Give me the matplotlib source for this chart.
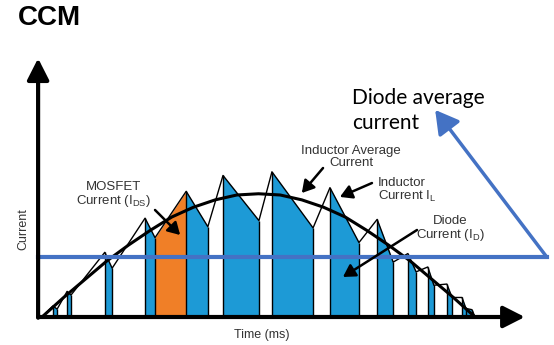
import matplotlib.pyplot as plt
from matplotlib.patches import FancyArrowPatch

plt.rcParams['mathtext.fontset'] = 'custom'
plt.rcParams['mathtext.rm'] = 'Liberation Sans'
plt.rcParams['mathtext.it'] = 'Liberation Sans:italic'

# inductor current, alternating valley / peak vertices (time in % of the half cycle)
t_il = [0, 2.5, 3.5, 5.8, 6.7, 14.5, 16.2, 23.8, 26.1, 33.3, 38.3, 41.8, 50.1,
        53.1, 62.6, 66.5, 73.2, 77.4, 81.1, 84.5, 86.4, 89.1, 90.5, 93.5,
        94.7, 97.0, 97.9, 99.3, 100]
i_il = [0, 9, 6.5, 21, 18, 53, 40, 81, 65, 103, 74, 116, 79,
        119, 73, 106, 61, 80, 45, 52, 37, 41, 26, 27,
        16, 16, 7, 6, 0]

# inductor average current (half sine), read every 5 %
t_avg = [0, 5, 10, 15, 20, 25, 30, 35, 40, 45, 50, 55, 60, 65, 70, 75, 80, 85, 90, 95, 100]
i_avg = [0, 16, 31, 46, 59, 71, 82, 90, 96, 100, 101, 100, 96, 90, 82, 71, 59, 46, 31, 16, 0]

diode_avg = 49
mosfet_seg = 8  # rising edge drawn as the MOSFET current

blue = '#1d9ad6'
orange = '#f07f27'
avg_blue = '#4472c4'
txt = '#333333'

fig = plt.figure(figsize=(5.54, 3.45), dpi=100)
ax = fig.add_axes([0, 0, 1, 1])
ax.set_xlim(-9.70, 118.24)
ax.set_ylim(-22.95, 259.8)
ax.axis('off')

# diode (falling) and MOSFET (rising) pieces
for k in range(len(t_il) - 1):
    seg_t = [t_il[k], t_il[k + 1]]
    seg_i = [i_il[k], i_il[k + 1]]
    if i_il[k + 1] < i_il[k]:
        ax.fill_between(seg_t, [0, 0], seg_i, color=blue, lw=0, zorder=1)
    elif k == mosfet_seg:
        ax.fill_between(seg_t, [0, 0], seg_i, color=orange, lw=0, zorder=1)

ax.vlines(t_il, 0, i_il, color='black', lw=1.0, zorder=2)
ax.plot(t_il, i_il, color='black', lw=1.0, zorder=3)
ax.plot(t_avg, i_avg, color='black', lw=2.2, zorder=4, solid_capstyle='round')

# axes with arrow heads
def arrow(p0, p1, color='black', lw=1.5, hl=0.5, hw=0.25, ms=20, z=6):
    a = FancyArrowPatch(p0, p1, arrowstyle=f'-|>,head_length={hl},head_width={hw}',
                        mutation_scale=ms, color=color, lw=lw, zorder=z,
                        shrinkA=0, shrinkB=0)
    ax.add_patch(a)

arrow((-0.9, -0.6), (-0.9, 212), lw=3, hl=0.65, hw=0.33)
arrow((-0.9, 0), (111.5, 0), lw=3, hl=0.65, hw=0.33)

# diode average current line and its pointer
ax.plot([-0.9, 116.6], [diode_avg, diode_avg], color=avg_blue, lw=3, zorder=5)
arrow((116.6, diode_avg), (90.8, 169.7), color=avg_blue, lw=2.5, hl=0.7, hw=0.4, z=5)

ax.text(-5.54, 239.3, 'CCM', fontsize=20, fontweight='bold',
        family='Liberation Sans', ha='left', va='baseline', color='black')
ax.text(-4.2, 72, 'Current', rotation=90, fontsize=9, family='Liberation Sans',
        ha='center', va='center', color=txt)
ax.text(50.8, -14.8, 'Time (ms)', fontsize=9, family='Liberation Sans',
        ha='center', va='center', color=txt)

note = dict(fontsize=9.5, family='Liberation Sans', color=txt, linespacing=1.0)
ax.text(16.6, 100, 'MOSFET\nCurrent (I$_{\\mathrm{DS}}$)', ha='center', va='center', **note)
ax.text(71.4, 131, 'Inductor Average\nCurrent', ha='center', va='center', **note)
ax.text(77.6, 104, 'Inductor\nCurrent I$_{\\mathrm{L}}$', ha='left', va='center', **note)
ax.text(94.2, 72, 'Diode\nCurrent (I$_{\\mathrm{D}}$)', ha='center', va='center', **note)

arrow((26.1, 87.7), (31.9, 67.2), lw=1.8, hl=0.6, hw=0.35, ms=12)
arrow((64.9, 122.1), (60.0, 101.6), lw=1.8, hl=0.6, hw=0.35, ms=12)
arrow((76.2, 109.8), (68.8, 98.4), lw=1.8, hl=0.6, hw=0.35, ms=12)
arrow((86.6, 71.3), (69.5, 32.8), lw=1.8, hl=0.6, hw=0.35, ms=12)

ax.text(71.6, 169.5, 'Diode average\ncurrent', fontsize=15, family='Lato',
        ha='left', va='center', color='black', linespacing=1.3)

fig.savefig('out.png', dpi=100)
